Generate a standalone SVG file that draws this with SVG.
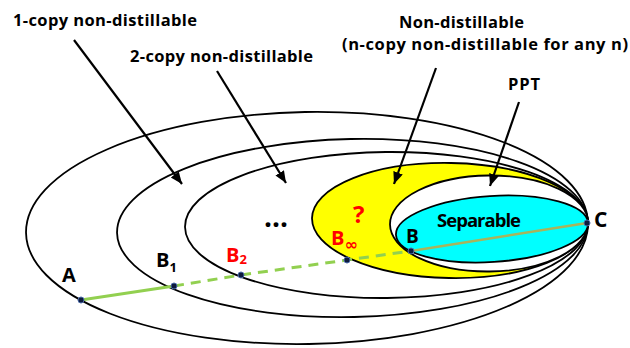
<svg xmlns="http://www.w3.org/2000/svg" width="630" height="348" viewBox="0 0 630 348">
<style>
.ell{stroke:#000;stroke-width:1.8}
.lbl{font-family:"Open Sans","Liberation Sans",sans-serif;font-weight:bold;fill:#000}
.red{fill:#ff0000}
.arr{stroke:#000;stroke-width:2.2;fill:none;marker-end:url(#ah)}
.pt{fill:#0d1a3d;stroke:#4a6aa8;stroke-width:1}
</style>
<defs>
<marker id="ah" markerUnits="userSpaceOnUse" markerWidth="13" markerHeight="11" refX="12" refY="5" orient="auto">
<path d="M0,0 L12,5 L0,10 z" fill="#000"/>
</marker>
</defs>
<rect width="630" height="348" fill="#fff"/>
<g id="set-1copy"><ellipse class="ell" cx="307" cy="228" rx="281" ry="116" fill="#fff" transform="rotate(-1.0 307 228)"/></g>
<g id="set-2copy"><ellipse class="ell" cx="352.5" cy="228" rx="235.5" ry="89" fill="#fff" transform="rotate(-1.2 352.5 228)"/></g>
<g id="set-ncopy"><ellipse class="ell" cx="386.5" cy="225" rx="201.5" ry="73" fill="#fff" transform="rotate(-0.57 386.5 225)"/></g>
<g id="set-nondist"><ellipse class="ell" cx="450" cy="220.5" rx="138" ry="57.5" fill="#ffff00" transform="rotate(1.04 450 220.5)"/></g>
<g id="set-ppt"><ellipse class="ell" cx="489" cy="223.5" rx="99" ry="48" fill="#fff" transform="rotate(-0.6 489 223.5)"/></g>
<g id="set-sep"><ellipse class="ell" cx="492" cy="229" rx="96.2" ry="33" fill="#00ffff" transform="rotate(-3.58 492 229)"/>
<text class="lbl" x="437" y="227" font-size="18.5" textLength="84">Separable</text></g>
<g id="connectors">
<line x1="81" y1="300" x2="174" y2="286" stroke="#92d050" stroke-width="3"/>
<polyline points="174,286 241,275 347,260 411,251" fill="none" stroke="#92d050" stroke-width="3" stroke-dasharray="10 7"/>
<line x1="411" y1="251" x2="587" y2="223" stroke="#a8b45c" stroke-width="2.5"/>
<line class="arr" x1="74" y1="40" x2="182" y2="184"/>
<line class="arr" x1="217" y1="71" x2="286" y2="183"/>
<line class="arr" x1="436" y1="68" x2="394" y2="184"/>
<line class="arr" x1="519" y1="102" x2="490" y2="186"/>
</g>
<g id="points">
<circle class="pt" cx="81" cy="300" r="3"/>
<circle class="pt" cx="174" cy="286" r="3"/>
<circle class="pt" cx="241" cy="275" r="3"/>
<circle class="pt" cx="347" cy="260" r="3"/>
<circle class="pt" cx="411" cy="251" r="3"/>
<circle class="pt" cx="587" cy="223" r="3"/>
</g>
<g id="labels">
<text class="lbl" x="13" y="26" font-size="16.5" textLength="184">1-copy non-distillable</text>
<text class="lbl" x="130" y="62" font-size="16.5" textLength="183">2-copy non-distillable</text>
<text class="lbl" x="399" y="28" font-size="16.5" textLength="125">Non-distillable</text>
<text class="lbl" x="342" y="50" font-size="16.5" textLength="286">(n-copy non-distillable for any n)</text>
<text class="lbl" x="508" y="90" font-size="16.5" textLength="32">PPT</text>
<text class="lbl" x="264" y="227" font-size="28" textLength="24">...</text>
<text class="lbl red" x="353" y="223" font-size="24">?</text>
<text class="lbl" x="62" y="282" font-size="20">A</text>
<text class="lbl" x="156" y="267" font-size="20">B<tspan font-size="13" dy="5">1</tspan></text>
<text class="lbl red" x="226" y="262" font-size="20">B<tspan font-size="13" dy="2">2</tspan></text>
<text class="lbl red" x="331" y="245" font-size="20">B<tspan font-size="16" dy="5" font-family="DejaVu Sans,sans-serif">∞</tspan></text>
<text class="lbl" x="406" y="243" font-size="19">B</text>
<text class="lbl" x="594" y="227" font-size="21">C</text>
</g>
</svg>
